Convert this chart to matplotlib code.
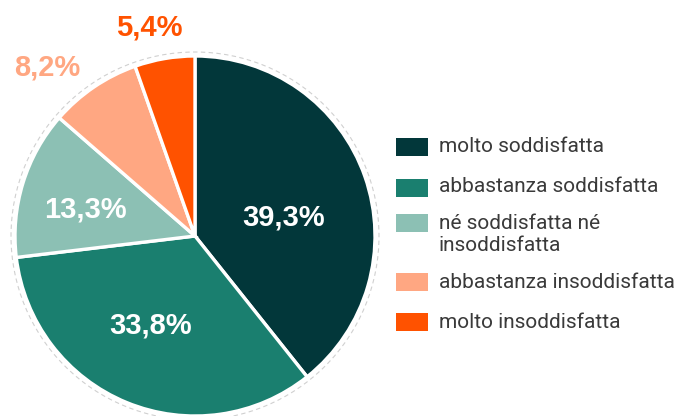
import matplotlib
matplotlib.use("Agg")
import matplotlib.pyplot as plt
from matplotlib.patches import Rectangle, Circle

categories = ["molto soddisfatta", "abbastanza soddisfatta", "né soddisfatta né\ninsoddisfatta",
              "abbastanza insoddisfatta", "molto insoddisfatta"]
values = [39.3, 33.8, 13.3, 8.2, 5.4]
labels = ["39,3%", "33,8%", "13,3%", "8,2%", "5,4%"]
colors = ["#02373a", "#1a7f6f", "#8cc0b4", "#ffa782", "#ff5200"]

W, H = 678, 416
fig = plt.figure(figsize=(W / 100, H / 100), dpi=100)
ax = fig.add_axes([0, 0, 1, 1])

cx, cy, r = 195, H - 236, 180
ax.add_patch(Circle((cx, cy), r + 4, fill=False, ec="#d0d0d0", lw=0.8, ls=(0, (4, 3))))
ax.pie(values, colors=colors, startangle=90, counterclock=False, center=(cx, cy), radius=r,
       wedgeprops=dict(edgecolor="white", linewidth=2.4), frame=True)
ax.set_xlim(0, W)
ax.set_ylim(0, H)
ax.set_aspect("equal")
ax.axis("off")

font = "Liberation Sans"
label_pos = [(284, 217), (151, 325), (85, 209), (47, 68), (149, 28)]
label_cols = ["white", "white", "white", colors[3], colors[4]]
for lab, (x, y), c in zip(labels, label_pos, label_cols):
    ax.text(x, H - y, lab, color=c, fontsize=21, fontweight="bold", family=font,
            ha="center", va="center")

sq_y = [147, 188, 223, 282, 322]
txt_y = [147, 187, 234.5, 282, 322]
for cat, col, sy, ty in zip(categories, colors, sq_y, txt_y):
    ax.add_patch(Rectangle((396, H - sy - 9), 32, 18, color=col, lw=0))
    ax.text(439, H - ty, cat, color="#3a3a3a", fontsize=15, family="Roboto",
            ha="left", va="center", linespacing=1.2)

fig.savefig("out.png", dpi=100)
